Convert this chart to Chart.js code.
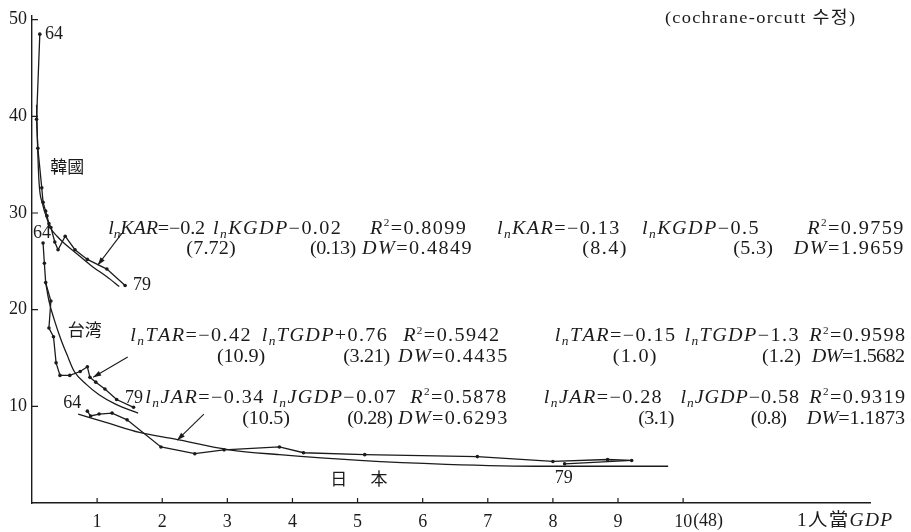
<!DOCTYPE html>
<html><head><meta charset="utf-8">
<script src="https://cdn.jsdelivr.net/npm/chart.js@4.4.0/dist/chart.umd.min.js"></script>
<style>html,body{margin:0;padding:0;background:#fff}#wrap{width:911px;height:532px;position:relative}</style>
</head><body><div id="wrap"><canvas id="c"></canvas></div>
<script>
// ---- data (x: per-capita GDP, 1000$ ; y: AR %) ----
const xTickValues = [1,2,3,4,5,6,7,8,9,10];
const xTickLabels = ['1','2','3','4','5','6','7','8','9','10'];
const yTickValues = [10,20,30,40,50];

const koreaGDP = [0.12,0.07,0.09,0.15,0.17,0.21,0.23,0.26,0.29,0.35,0.40,0.51,0.66,0.85,1.15,1.43];
const koreaAR  = [48.5,39.7,36.7,32.6,31.1,30.2,29.7,28.9,28.5,27.0,26.2,27.6,26.2,25.2,24.2,22.5];
const koreaFitGDP = [0.07,0.085,0.11,0.16,0.23,0.29,0.385,0.49,0.65,0.90,1.15,1.34];
const koreaFitAR  = [41.2,37.1,33.0,31.0,29.4,28.4,27.6,26.9,26.0,24.6,23.4,22.4];

const taiwanGDP = [0.17,0.19,0.21,0.29,0.26,0.33,0.37,0.43,0.58,0.74,0.85,0.89,0.98,1.12,1.30,1.56];
const taiwanAR  = [26.9,24.8,22.8,20.9,18.1,17.2,14.5,13.2,13.2,13.6,14.1,13.0,12.5,11.8,10.7,9.9];
const taiwanFitGDP = [0.21,0.26,0.34,0.44,0.54,0.65,0.83,1.03,1.29,1.63];
const taiwanFitAR  = [22.8,20.9,19.0,17.0,15.3,13.6,12.3,11.2,10.2,9.3];

const japanGDP = [0.85,0.90,1.03,1.23,1.46,1.98,2.50,2.95,3.80,4.17,5.11,6.84,8.00,8.84,9.21,8.18];
const japanAR  = [9.5,9.0,9.2,9.3,8.6,5.8,5.1,5.5,5.8,5.2,5.0,4.8,4.3,4.5,4.4,4.05];
const japanFitGDP = [0.71,1.20,1.65,2.20,3.03,3.80,5.03,6.36,7.90,9.77];
const japanFitAR  = [9.2,8.2,7.3,6.6,5.5,5.0,4.4,4.0,3.8,3.8];

// ---- annotations (positions in data units) ----
const labels = [
  {t:'64', x:0.20, y:48.5},
  {t:'韓國', x:0.28, y:34.8, cjk:true},
  {t:'64', x:0.015, y:27.9},
  {t:'79', x:1.55, y:22.5},
  {t:'台湾', x:0.55, y:17.9, cjk:true},
  {t:'64', x:0.48, y:10.3},
  {t:'79', x:1.43, y:10.8},
  {t:'日', x:4.58, y:2.56, cjk:true},
  {t:'本', x:5.20, y:2.56, cjk:true},
  {t:'79', x:8.03, y:2.56}
];
// [xStart, xEnd, text, anchorRight]
const eqRows = [
  {y:28.3, items:[[1.17,2.66,'l_nKAR=−0.2'],[2.78,4.99,'l_nKGDP−0.02'],[5.19,6.70,'R^2=0.8099'],[7.14,9.16,'l_nKAR=−0.13'],[9.37,11.27,'l_nKGDP−0.5'],[11.72,13.38,'R^2=0.9759',1]]},
  {y:26.3, items:[[2.37,3.13,'(7.72)'],[4.27,4.98,'(0.13)'],[5.07,6.76,'DW=0.4849'],[8.45,9.16,'(8.4)'],[10.77,11.38,'(5.3)'],[11.57,13.38,'DW=1.9659',1]]},
  {y:17.2, items:[[1.51,3.47,'l_nTAR=−0.42'],[3.53,5.45,'l_nTGDP+0.76'],[5.70,7.19,'R^2=0.5942'],[8.03,9.95,'l_nTAR=−0.15'],[10.02,11.78,'l_nTGDP−1.3'],[11.89,13.41,'R^2=0.9598',1]]},
  {y:15.1, items:[[2.84,3.58,'(10.9)'],[4.78,5.50,'(3.21)'],[5.62,7.31,'DW=0.4435'],[8.92,9.59,'(1.0)'],[11.21,11.81,'(1.2)'],[12.03,13.41,'DW=1.5682',1]]},
  {y:10.8, items:[[1.74,3.66,'l_nJAR=−0.34'],[3.69,5.73,'l_nJGDP−0.07'],[5.81,7.34,'R^2=0.5878'],[7.86,9.90,'l_nJAR=−0.28'],[9.96,11.78,'l_nJGDP−0.58'],[11.90,13.41,'R^2=0.9319',1]]},
  {y:8.7, items:[[3.23,3.96,'(10.5)'],[4.84,5.53,'(0.28)'],[5.62,7.45,'DW=0.6293'],[9.31,9.86,'(3.1)'],[11.04,11.59,'(0.8)'],[11.90,13.41,'DW=1.1873',1]]}
];
const captions = [
  {t:'(cochrane-orcutt 수정)', x0:9.72, x1:12.64, y:50.1},
];
const arrows = [
  {x1:1.38, y1:27.9, x2:1.01, y2:24.6},
  {x1:1.47, y1:15.1, x2:0.94, y2:13.0},
  {x1:2.64, y1:9.2, x2:2.23, y2:6.5}
];

const INK = '#1b1b1b';
const SERIF = '"Liberation Serif","DejaVu Serif","Noto Sans CJK JP","Noto Sans CJK KR",serif';
const CJK = '"Noto Sans CJK JP","Noto Sans CJK KR",sans-serif';

function pts(xs, ys){ return xs.map((v,i)=>({x:v, y:ys[i]})); }

function runsOf(str, size){
  const re = /(l_n)|(R\^2)|([A-Z]+)|([^A-Z]+?)(?=l_n|R\^2|[A-Z]|$)/g;
  const out = []; let m;
  const it = `italic ${size}px ${SERIF}`, rm = `${size}px ${SERIF}`;
  while ((m = re.exec(str))){
    if (m[0] === '') { re.lastIndex++; continue; }
    if (m[1]) { out.push({t:'l', f:it, dy:0}); out.push({t:'n', f:`italic ${Math.round(size*0.68)}px ${SERIF}`, dy:size*0.28}); }
    else if (m[2]) { out.push({t:'R', f:it, dy:0}); out.push({t:'2', f:`${Math.round(size*0.55)}px ${SERIF}`, dy:-size*0.32}); }
    else if (m[3]) out.push({t:m[3], f:it, dy:0});
    else out.push({t:m[4], f:rm, dy:0});
  }
  return out;
}
// rich text, slightly widened glyphs; mild letter spacing toward [x0, x1]
function drawRich(ctx, str, x0, y, size, x1, right, sx){
  sx = sx || 1.12;
  const runs = runsOf(str, size);
  const chars = [];
  runs.forEach(r=>{ ctx.font = r.f; for (const ch of r.t) chars.push({ch, f:r.f, dy:r.dy, w:ctx.measureText(ch).width*sx}); });
  const natural = chars.reduce((s,c)=>s+c.w, 0);
  let sp = 0;
  if (x1 !== undefined && chars.length > 1) sp = Math.min(1.4, Math.max(-0.6, (x1 - x0 - natural)/(chars.length-1)));
  const total = natural + sp*(chars.length-1);
  let cx = right ? x1 - total : x0;
  ctx.textAlign = 'left'; ctx.textBaseline = 'middle';
  chars.forEach(c=>{
    ctx.font = c.f;
    ctx.save(); ctx.translate(cx, y + c.dy); ctx.scale(sx, 1); ctx.fillText(c.ch, 0, 0); ctx.restore();
    cx += c.w + sp;
  });
}

const overlay = {
  id:'overlay',
  afterDraw(chart){
    const {ctx, chartArea:ca} = chart;
    const xs = chart.scales.x, ys = chart.scales.y;
    ctx.save();
    ctx.strokeStyle = INK; ctx.fillStyle = INK; ctx.lineWidth = 1.2;
    // inner tick marks
    ctx.beginPath();
    xTickValues.forEach(v=>{ const p = xs.getPixelForValue(v); ctx.moveTo(p, ca.bottom); ctx.lineTo(p, ca.bottom-5); });
    yTickValues.forEach(v=>{ const p = ys.getPixelForValue(v); ctx.moveTo(ca.left, p); ctx.lineTo(ca.left+6, p); });
    ctx.stroke();
    // "(48)" after the 10 tick label, and axis caption
    ctx.font = `18px ${SERIF}`; ctx.textBaseline = 'middle'; ctx.textAlign = 'left';
    const p10 = xs.getPixelForValue(10);
    ctx.fillText('(48)', p10 + ctx.measureText('10').width/2 + 1, ca.bottom + 18);
    drawRich(ctx, '1人當GDP', xs.getPixelForValue(11.75), ca.bottom + 18, 18, xs.getPixelForValue(13.21), false, 1.08);
    captions.forEach(c=> drawRich(ctx, c.t, xs.getPixelForValue(c.x0), ys.getPixelForValue(c.y), 17, xs.getPixelForValue(c.x1), false, 1.08));
    // labels
    labels.forEach(l=>{
      ctx.font = l.cjk ? `17px ${CJK}` : `18px ${SERIF}`;
      ctx.textAlign = 'left'; ctx.textBaseline = 'middle';
      ctx.fillText(l.t, xs.getPixelForValue(l.x), ys.getPixelForValue(l.y));
    });
    // equations
    eqRows.forEach(r=>{
      r.items.forEach(([a,b,s,rt])=> drawRich(ctx, s, xs.getPixelForValue(a), ys.getPixelForValue(r.y), 18, xs.getPixelForValue(b), !!rt));
    });
    // arrows
    arrows.forEach(a=>{
      const x1=xs.getPixelForValue(a.x1), y1=ys.getPixelForValue(a.y1);
      const x2=xs.getPixelForValue(a.x2), y2=ys.getPixelForValue(a.y2);
      ctx.lineWidth = 1.1;
      ctx.beginPath(); ctx.moveTo(x1,y1); ctx.lineTo(x2,y2); ctx.stroke();
      const ang = Math.atan2(y2-y1, x2-x1), L=8, W=2.6;
      ctx.beginPath();
      ctx.moveTo(x2,y2);
      ctx.lineTo(x2 - L*Math.cos(ang) + W*Math.sin(ang), y2 - L*Math.sin(ang) - W*Math.cos(ang));
      ctx.lineTo(x2 - L*Math.cos(ang) - W*Math.sin(ang), y2 - L*Math.sin(ang) + W*Math.cos(ang));
      ctx.closePath(); ctx.fill();
    });
    ctx.restore();
  }
};

const dataLine = (xs, ys) => ({data:pts(xs,ys), showLine:true, borderColor:INK, backgroundColor:INK, borderWidth:1.3, pointRadius:1.8, pointBackgroundColor:INK, pointBorderWidth:0, tension:0});
const fitLine = (xs, ys) => ({data:pts(xs,ys), showLine:true, borderColor:INK, borderWidth:1.3, pointRadius:0, cubicInterpolationMode:'monotone'});

new Chart(document.getElementById('c'), {
  type:'scatter',
  data:{ datasets:[
    dataLine(koreaGDP, koreaAR), fitLine(koreaFitGDP, koreaFitAR),
    dataLine(taiwanGDP, taiwanAR), fitLine(taiwanFitGDP, taiwanFitAR),
    dataLine(japanGDP, japanAR), fitLine(japanFitGDP, japanFitAR)
  ]},
  options:{
    responsive:true, maintainAspectRatio:false, animation:false,
    layout:{padding:{top:10, right:41, left:0, bottom:0}},
    plugins:{legend:{display:false}, tooltip:{enabled:false}},
    scales:{
      x:{type:'linear', min:0, max:12.87,
         grid:{display:false, drawTicks:false},
         border:{display:true, color:INK, width:1.4},
         afterBuildTicks:s=>{ s.ticks = xTickValues.map(v=>({value:v})); },
         afterFit:s=>{ s.height = 29; },
         ticks:{autoSkip:false, maxRotation:0, padding:8, color:INK, font:{family:SERIF, size:18},
                callback:(v)=>{ const i = xTickValues.indexOf(v); return i>=0 ? xTickLabels[i] : ''; }}},
      y:{type:'linear', min:0, max:50.4,
         grid:{display:false, drawTicks:false},
         border:{display:true, color:INK, width:1.4},
         afterBuildTicks:s=>{ s.ticks = yTickValues.map(v=>({value:v})); },
         afterFit:s=>{ s.width = 32; },
         ticks:{padding:5, color:INK, font:{family:SERIF, size:18}}}
    }
  },
  plugins:[overlay]
});
</script></body></html>
